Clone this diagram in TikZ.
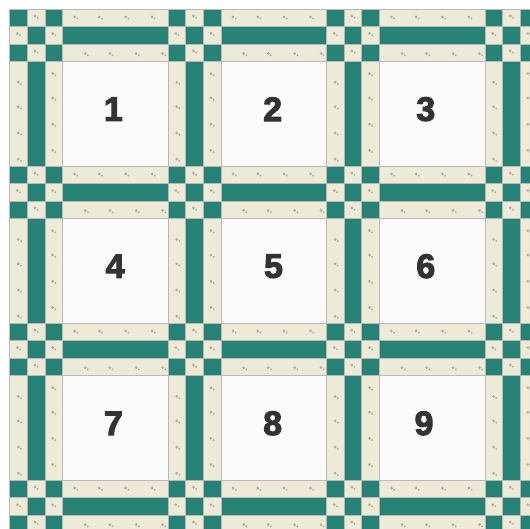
\documentclass[tikz,border=0pt]{standalone}
\usepackage{fontspec}
\setmainfont{Liberation Sans}
\newfontfamily\numfont{Liberation Sans Bold}[FakeBold=3]
\usepackage{xcolor}
\definecolor{quiltteal}{RGB}{38,130,117}
\definecolor{quiltcream}{RGB}{238,234,216}
\definecolor{quiltblock}{RGB}{250,250,250}
\begin{document}
\begin{tikzpicture}[
  x=17.6pt, y=-17.45pt,
  seam/.style={draw=gray!55, line width=0.4pt},
  teal/.style={seam, fill=quiltteal},
  cream/.style={seam, fill=quiltcream},
  block/.style={seam, fill=quiltblock},
  speck/.style={fill=black!55, opacity=0.55},
  num/.style={font=\numfont\fontsize{34}{34}\selectfont, text=black!80}
]
\useasboundingbox (-0.54,-0.516) rectangle (29.57,29.74);
\clip (-0.54,-0.516) rectangle (29.57,29.74);
\fill[white] (-0.54,-0.516) rectangle (29.57,29.74);
% nine-patch cornerstones
\foreach \i in {0,...,3}
  \foreach \j in {0,...,3}
    \foreach \a in {0,1,2}
      \foreach \b in {0,1,2} {
        \pgfmathtruncatemacro\parity{mod(\a+\b,2)}
        \ifnum\parity=0
          \path[teal] (9*\i+\a,9*\j+\b) rectangle ++(1,1);
        \else
          \path[cream] (9*\i+\a,9*\j+\b) rectangle ++(1,1);
          \fill[speck] (9*\i+\a+0.45,9*\j+\b+0.4) circle (1.5pt)
                       ++(0.15,0.1) circle (1pt);
        \fi
      }
% sashing strips
\foreach \i in {0,1,2}
  \foreach \j in {0,...,3} {
    \path[cream] (9*\i+3,9*\j) rectangle ++(6,1);
    \path[teal]  (9*\i+3,9*\j+1) rectangle ++(6,1);
    \path[cream] (9*\i+3,9*\j+2) rectangle ++(6,1);
    \path[cream] (9*\j,9*\i+3) rectangle ++(1,6);
    \path[teal]  (9*\j+1,9*\i+3) rectangle ++(1,6);
    \path[cream] (9*\j+2,9*\i+3) rectangle ++(1,6);
    \foreach \k in {0.7,2.1,3.6,5.1} {
      \fill[speck] (9*\i+3+\k,9*\j+0.45) circle (1.5pt) ++(0.15,0.1) circle (1pt);
      \fill[speck] (9*\i+3.6+\k,9*\j+2.55) circle (1.5pt) ++(0.15,0.1) circle (1pt);
      \fill[speck] (9*\j+0.5,9*\i+3.5+\k) circle (1.5pt) ++(0.15,0.1) circle (1pt);
      \fill[speck] (9*\j+2.45,9*\i+3+\k) circle (1.5pt) ++(0.15,0.1) circle (1pt);
    }
  }
% numbered blocks
\foreach \n/\dx [evaluate=\n as \c using {int(mod(\n-1,3))},
             evaluate=\n as \r using {int((\n-1)/3)}]
    in {1/-0.1,2/-0.05,3/-0.35,4/0,5/0,6/-0.35,7/-0.1,8/-0.05,9/-0.45} {
  \path[block] (9*\c+3,9*\r+3) rectangle ++(6,6);
  \node[num] (b\n) at (9*\c+6+\dx,9*\r+5.74) {\n};
}
\end{tikzpicture}
\end{document}
